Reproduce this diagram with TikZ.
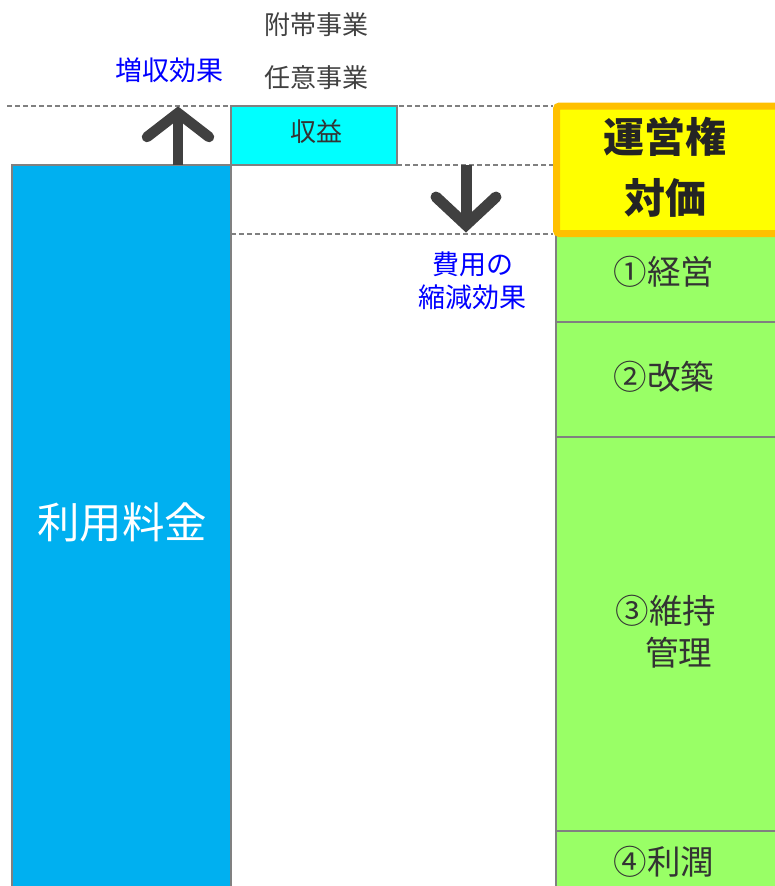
\documentclass[tikz,border=0pt]{standalone}
\usepackage{fontspec}
\setmainfont{Noto Sans CJK JP}
\definecolor{bluefill}{HTML}{00B0F0}
\definecolor{cyanfill}{HTML}{00FFFF}
\definecolor{greenfill}{HTML}{99FF66}
\definecolor{orangeb}{HTML}{FFC000}
\definecolor{yellowfill}{HTML}{FFFF00}
\definecolor{edgegray}{HTML}{808080}
\definecolor{arrowgray}{HTML}{404040}
\definecolor{txt}{HTML}{333333}
\definecolor{bluetxt}{HTML}{0000FF}
\tikzset{
  guide/.style={draw=edgegray, line width=1.3pt, dash pattern=on 5pt off 3pt},
  boxedge/.style={draw=edgegray, line width=2pt},
  lbl/.style={inner sep=0pt, anchor=center},
  fsA/.style={font=\fontsize{26pt}{30pt}\selectfont},
  fsB/.style={font=\fontsize{27pt}{31pt}\selectfont},
  fsG/.style={font=\fontsize{33.5pt}{38pt}\selectfont},
  fsY/.style={font=\fontsize{41pt}{46pt}\selectfont\bfseries},
  arr/.style={draw=arrowgray, line width=10.5pt},
  arrhead/.style={draw=arrowgray, line width=10.5pt, line cap=round, line join=miter},
}
\begin{document}
\begin{tikzpicture}[x=1pt, y=-1pt]
\useasboundingbox (0,0) rectangle (774,886);
% guide lines
\draw[guide] (7,106) -- (553,106);
\draw[guide] (397,165) -- (553,165);
\draw[guide] (231,234) -- (553,234);
% boxes
\draw[boxedge, fill=bluefill] (12,165) rectangle (231,895);
\draw[boxedge, fill=cyanfill] (231,106) rectangle (397,165);
\draw[boxedge, fill=greenfill] (556,235) rectangle (785,895);
\draw[boxedge] (556,322) -- (785,322);
\draw[boxedge] (556,437) -- (785,437);
\draw[boxedge] (556,831) -- (785,831);
\draw[draw=orangeb, fill=yellowfill, line width=7pt, rounded corners=3pt] (556.5,106) rectangle (790,233.5);
% arrows
\coordinate (upbase) at (178,165);
\coordinate (uptip) at (178,113);
\coordinate (upl) at (147,137);
\coordinate (upr) at (209,137);
\draw[arr] (upbase) -- ([yshift=1pt]uptip);
\draw[arrhead] (upl) -- (uptip) -- (upr);
\coordinate (dnbase) at (466,165);
\coordinate (dntip) at (466,225);
\coordinate (dnl) at (436,197);
\coordinate (dnr) at (496,197);
\draw[arr, line width=11pt] (dnbase) -- ([yshift=-1pt]dntip);
\draw[arrhead, line width=11pt] (dnl) -- (dntip) -- (dnr);
% labels
\node[lbl, fsA, text=arrowgray] (futai) at (316,25) {附帯事業};
\node[lbl, fsA, text=arrowgray] (nini) at (316,78) {任意事業};
\node[lbl, fsA, text=txt] (shueki) at (316,132) {収益};
\node[lbl, fsB, text=bluetxt] (zoshu) at (169,70) {増収効果};
\node[lbl, fsB, text=bluetxt] (hiyo1) at (473,264) {費用の};
\node[lbl, fsB, text=bluetxt] (hiyo2) at (472,297) {縮減効果};
\node[lbl, font=\fontsize{42.5pt}{48pt}\selectfont, text=white] (ryokin) at (122,522) {利用料金};
\node[lbl, fsY, text=txt!70!black] (unei1) at (665,137) {運営権};
\node[lbl, fsY, text=txt!70!black] (unei2) at (665,198) {対価};
\node[lbl, fsG, text=txt] (g1) at (664,272) {①経営};
\node[lbl, fsG, text=txt] (g2) at (664,377) {②改築};
\node[lbl, fsG, text=txt] (g3a) at (666,611) {③維持};
\node[lbl, fsG, text=txt] (g3b) at (678.5,653) {管理};
\node[lbl, fsG, text=txt] (g4) at (664,862) {④利潤};
\end{tikzpicture}
\end{document}
